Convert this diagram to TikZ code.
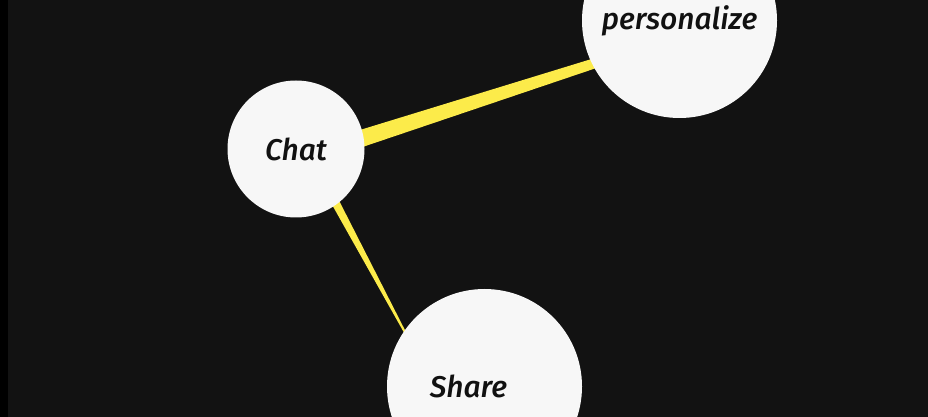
\documentclass[tikz,border=0pt]{standalone}
\usepackage{fontspec}
\newfontfamily\labelfont{Fira Sans}[UprightFont={* Medium Italic}]
\usetikzlibrary{calc,backgrounds}
\definecolor{bgdark}{HTML}{121212}
\definecolor{stripblack}{HTML}{000000}
\definecolor{bubble}{HTML}{F7F7F7}
\definecolor{linkyellow}{HTML}{FCEB4A}
\definecolor{inkdark}{HTML}{111111}
\tikzset{
  bubblenode/.style={circle, fill=bubble, inner sep=0pt, minimum size=#1,
    text=inkdark, font=\labelfont\fontsize{30}{30}\selectfont},
  linkfill/.style={fill=linkyellow}
}
\begin{document}
\begin{tikzpicture}[x=1pt,y=1pt]
\useasboundingbox (0,0) rectangle (928,417);
\clip (0,0) rectangle (928,417);
\node[bubblenode=137pt] (chat) at (296,268) {Chat};
\node[bubblenode=195pt] (pers) at (679.5,396.5) {\raisebox{-1.5pt}{personalize}};
\node[bubblenode=195pt] (share) at (484.5,30.5) {Share\hspace*{32pt}};
\coordinate (chatsrc) at ($(chat)+(14,-6)$);
\coordinate (persend) at ($(pers)+(0.5,-15.3)$);
\coordinate (sharetip) at ($(share)+(-61.5,20.5)$);
\begin{pgfonlayer}{background}
\fill[bgdark] (0,0) rectangle (928,417);
\fill[stripblack] (0,0) rectangle (8,417);
\fill[linkfill] ($(chatsrc)!9.25pt!90:(persend)$) -- ($(persend)!3.75pt!-90:(chatsrc)$)
  -- ($(persend)!3.75pt!90:(chatsrc)$) -- ($(chatsrc)!9.25pt!-90:(persend)$) -- cycle;
\fill[linkfill] ($(chatsrc)!5.2pt!90:(sharetip)$) -- ($(sharetip)!0.2pt!-90:(chatsrc)$)
  -- ($(sharetip)!0.2pt!90:(chatsrc)$) -- ($(chatsrc)!5.2pt!-90:(sharetip)$) -- cycle;
\end{pgfonlayer}
\end{tikzpicture}
\end{document}
